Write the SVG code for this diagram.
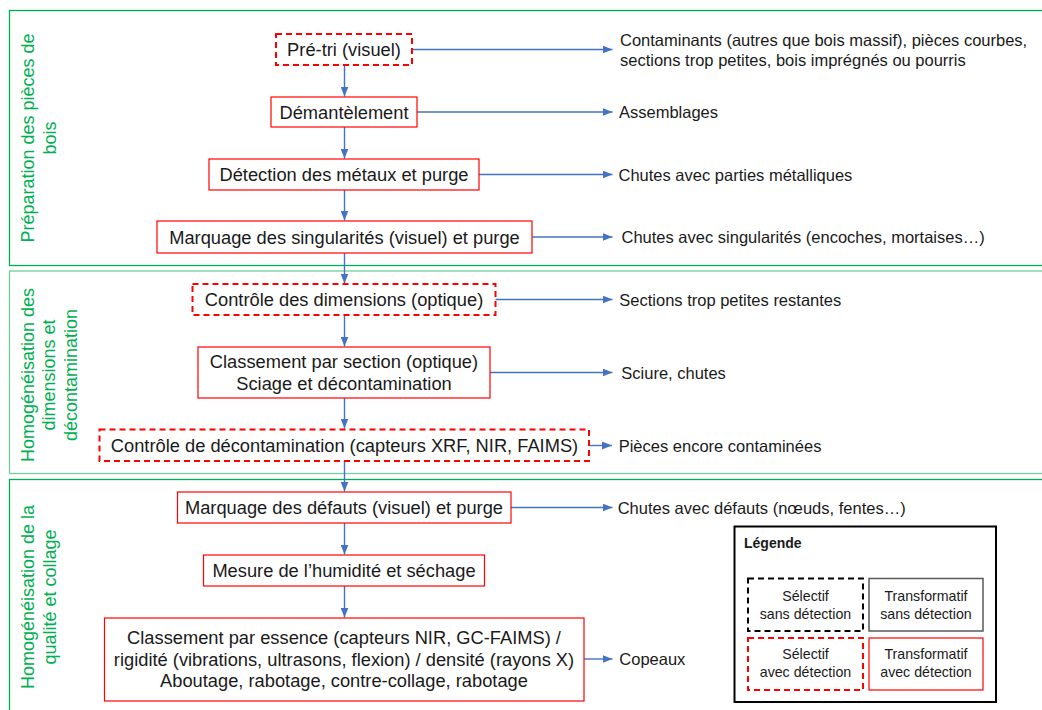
<svg xmlns="http://www.w3.org/2000/svg" width="1042" height="710" viewBox="0 0 1042 710">
<style>
text{font-family:"Liberation Sans",Arial,sans-serif;fill:#1a1a1a}
.node{font-size:18.3px;text-anchor:middle}
.out{font-size:16.5px}
.sec{font-size:18px;fill:#00b050;text-anchor:middle}
.lg{font-size:14.2px;text-anchor:middle}
.sel{fill:#fff;stroke:#ff0000;stroke-width:2;stroke-dasharray:6 4}
.tr{fill:#fff;stroke:#ff0000;stroke-width:1.2}
.con{fill:none;stroke:#4472c4;stroke-width:1.4;marker-end:url(#ah)}
.band{fill:none;stroke:#00b050;stroke-width:1.3}
</style>
<defs>
<marker id="ah" markerUnits="userSpaceOnUse" markerWidth="10" markerHeight="8" refX="10" refY="4" orient="auto">
<path d="M0,0 L10,4 L0,8 z" fill="#4472c4"/>
</marker>
</defs>
<rect width="1042" height="710" fill="#fff"/>

<g id="section1">
<rect class="band" x="9.5" y="10.5" width="1040" height="255"/>
<text class="sec" transform="translate(33.5,138) rotate(-90)"><tspan x="0" y="0">Préparation des pièces de</tspan><tspan x="0" dy="22">bois</tspan></text>
</g>
<g id="section2">
<rect class="band" x="9.5" y="271" width="1040" height="202.5" style="stroke:#6fcf97"/>
<text class="sec" transform="translate(33.5,375) rotate(-90)"><tspan x="0" y="0">Homogénéisation des</tspan><tspan x="0" dy="21.7">dimensions et</tspan><tspan x="0" dy="21.7">décontamination</tspan></text>
</g>
<g id="section3">
<rect class="band" x="9.5" y="479.5" width="1040" height="240"/>
<text class="sec" transform="translate(33.5,597) rotate(-90)"><tspan x="0" y="0">Homogénéisation de la</tspan><tspan x="0" dy="22">qualité et collage</tspan></text>
</g>

<g id="connectors">
<path class="con" d="M344.5,65 V96.5"/>
<path class="con" d="M344.5,127 V158.5"/>
<path class="con" d="M344.5,190 V220.5"/>
<path class="con" d="M344.5,253 V283.5"/>
<path class="con" d="M344.5,315 V346.5"/>
<path class="con" d="M344.5,398 V428.5"/>
<path class="con" d="M344.5,461 V491.5"/>
<path class="con" d="M344.5,523 V554.5"/>
<path class="con" d="M344.5,586 V617.5"/>
<path class="con" d="M412,49.5 H612.5"/>
<path class="con" d="M417,112 H612.5"/>
<path class="con" d="M479,174.5 H612.5"/>
<path class="con" d="M532,237 H612.5"/>
<path class="con" d="M495,299.5 H612.5"/>
<path class="con" d="M490,372.5 H612.5"/>
<path class="con" d="M589,445.5 H612"/>
<path class="con" d="M511,507.5 H612.5"/>
<path class="con" d="M584,659 H612.5"/>
</g>

<g id="n-pretri">
<rect class="sel" x="276" y="34" width="136" height="31"/>
<text class="node" x="344" y="56">Pré-tri (visuel)</text>
</g>
<g id="n-demantelement">
<rect class="tr" x="271" y="97" width="146" height="30"/>
<text class="node" x="344" y="118.5">Démantèlement</text>
</g>
<g id="n-detection">
<rect class="tr" x="209" y="159" width="270" height="31"/>
<text class="node" x="344" y="181">Détection des métaux et purge</text>
</g>
<g id="n-marquage-sing">
<rect class="tr" x="157" y="221" width="375" height="32"/>
<text class="node" x="344.5" y="243.5">Marquage des singularités (visuel) et purge</text>
</g>
<g id="n-controle-dim">
<rect class="sel" x="192.5" y="284" width="303" height="31"/>
<text class="node" x="344" y="306">Contrôle des dimensions (optique)</text>
</g>
<g id="n-classement-section">
<rect class="tr" x="198" y="347" width="292" height="51"/>
<text class="node" x="344" y="368.2">Classement par section (optique)</text>
<text class="node" x="344" y="390">Sciage et décontamination</text>
</g>
<g id="n-controle-decont">
<rect class="sel" x="99.5" y="429.5" width="489.5" height="31.5"/>
<text class="node" x="344.5" y="451.7">Contrôle de décontamination (capteurs XRF, NIR, FAIMS)</text>
</g>
<g id="n-marquage-def">
<rect class="tr" x="177.5" y="492" width="333.5" height="31"/>
<text class="node" x="344" y="514.2">Marquage des défauts (visuel) et purge</text>
</g>
<g id="n-mesure">
<rect class="tr" x="203.5" y="555" width="281" height="31"/>
<text class="node" x="344" y="577">Mesure de l’humidité et séchage</text>
</g>
<g id="n-classement-essence">
<rect class="tr" x="104.5" y="618" width="479.5" height="83"/>
<text class="node" x="344" y="643.8">Classement par essence (capteurs NIR, GC-FAIMS) /</text>
<text class="node" x="344" y="665.8">rigidité (vibrations, ultrasons, flexion) / densité (rayons X)</text>
<text class="node" x="344" y="687.2">Aboutage, rabotage, contre-collage, rabotage</text>
</g>

<g id="outputs">
<text class="out" x="620" y="46">Contaminants (autres que bois massif), pièces courbes,</text>
<text class="out" x="620" y="66">sections trop petites, bois imprégnés ou pourris</text>
<text class="out" x="619" y="118">Assemblages</text>
<text class="out" x="618.5" y="180.5">Chutes avec parties métalliques</text>
<text class="out" x="621.5" y="243">Chutes avec singularités (encoches, mortaises…)</text>
<text class="out" x="619.3" y="305.5">Sections trop petites restantes</text>
<text class="out" x="621.3" y="378.5">Sciure, chutes</text>
<text class="out" x="618.7" y="451.5">Pièces encore contaminées</text>
<text class="out" x="617.7" y="513.5">Chutes avec défauts (nœuds, fentes…)</text>
<text class="out" x="619.3" y="665">Copeaux</text>
</g>

<g id="legend">
<rect x="734.5" y="526.5" width="261.5" height="175.5" fill="#fff" stroke="#000" stroke-width="2"/>
<text x="744" y="548" style="font-size:14px;font-weight:bold">Légende</text>
<rect x="748" y="578.5" width="115" height="52.5" fill="#fff" stroke="#000" stroke-width="2" stroke-dasharray="6 4"/>
<text class="lg" x="805.5" y="601">Sélectif</text>
<text class="lg" x="805.5" y="618.5">sans détection</text>
<rect x="869" y="578.5" width="114" height="52.5" fill="#fff" stroke="#595959" stroke-width="1.5"/>
<text class="lg" x="926" y="601">Transformatif</text>
<text class="lg" x="926" y="618.5">sans détection</text>
<rect class="sel" x="748" y="638" width="115" height="52"/>
<text class="lg" x="805.5" y="658.5">Sélectif</text>
<text class="lg" x="805.5" y="676.5">avec détection</text>
<rect class="tr" x="869" y="638" width="114" height="52"/>
<text class="lg" x="926" y="658.5">Transformatif</text>
<text class="lg" x="926" y="676.5">avec détection</text>
</g>
</svg>
